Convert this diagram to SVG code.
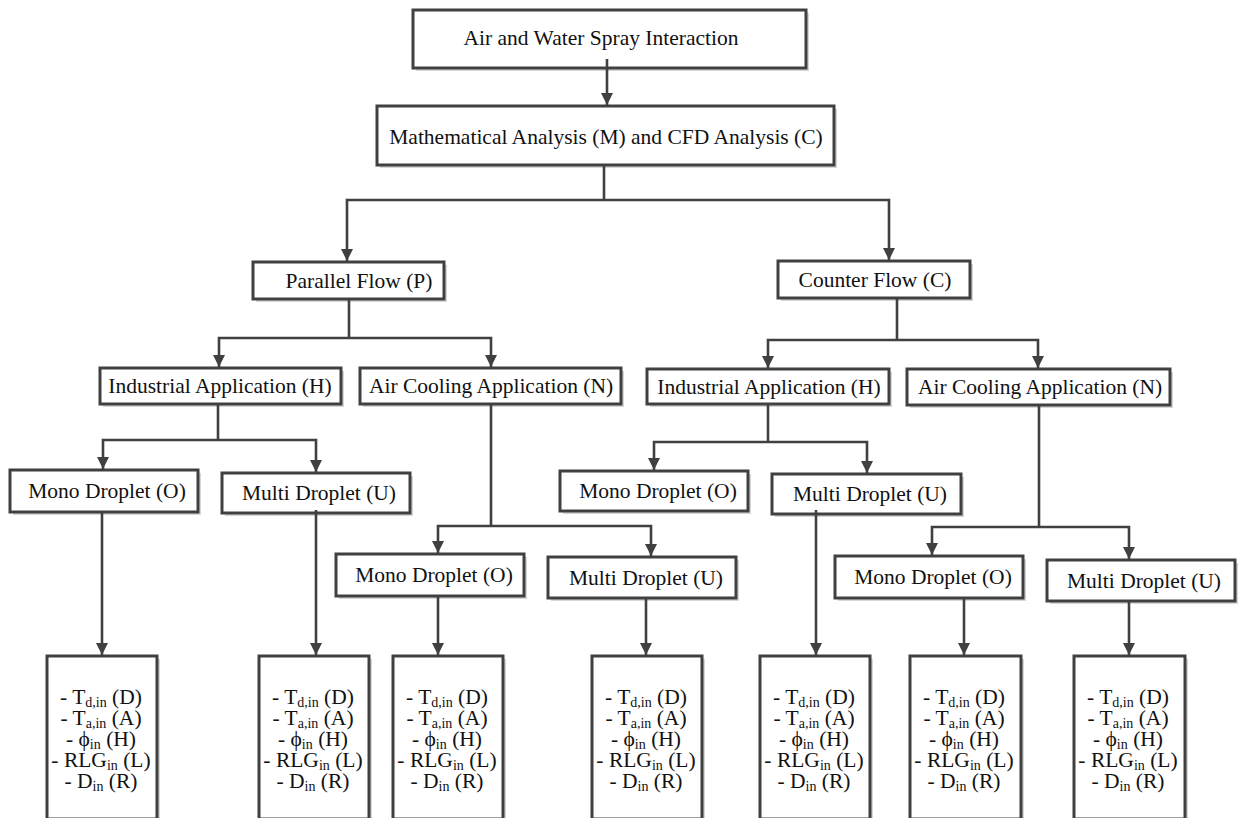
<svg xmlns="http://www.w3.org/2000/svg" width="1241" height="818" viewBox="0 0 1241 818">
<style>
.bx{fill:#ffffff;stroke:#404040;stroke-width:3}
.sh{fill:#d6d6d6}
.t{font-family:"Liberation Serif","Times New Roman",serif;font-size:21.5px;fill:#111;text-anchor:middle}
.sb{font-size:14px}
.c{fill:none;stroke:#404040;stroke-width:2.6}
.a{marker-end:url(#ah)}
</style>
<defs>
<marker id="ah" viewBox="0 0 10 10" refX="10" refY="5" markerWidth="13" markerHeight="12" markerUnits="userSpaceOnUse" orient="auto">
<path d="M0,0 L10,5 L0,10 z" fill="#404040"/>
</marker>
</defs>
<rect width="1241" height="818" fill="#ffffff"/>

<g id="n-top">
<rect class="sh" x="416" y="13" width="393" height="58"/>
<rect class="bx" x="413" y="10" width="393" height="58"/>
<text class="t" x="601" y="45">Air and Water Spray Interaction</text>
</g>
<g id="n-analysis">
<rect class="sh" x="380" y="109" width="457" height="59"/>
<rect class="bx" x="377" y="106" width="457" height="59"/>
<text class="t" x="606" y="144">Mathematical Analysis (M) and CFD Analysis (C)</text>
</g>
<g id="n-parallel">
<rect class="sh" x="256" y="265" width="191" height="37"/>
<rect class="bx" x="253" y="262" width="191" height="37"/>
<text class="t" x="359" y="288">Parallel Flow (P)</text>
</g>
<g id="n-counter">
<rect class="sh" x="781" y="264" width="192" height="37"/>
<rect class="bx" x="778" y="261" width="192" height="37"/>
<text class="t" x="875" y="287">Counter Flow (C)</text>
</g>
<g id="n-ind-p">
<rect class="sh" x="103" y="371" width="241" height="36"/>
<rect class="bx" x="100" y="368" width="241" height="36"/>
<text class="t" x="220" y="393">Industrial Application (H)</text>
</g>
<g id="n-air-p">
<rect class="sh" x="363" y="371" width="261" height="36"/>
<rect class="bx" x="360" y="368" width="261" height="36"/>
<text class="t" x="491" y="393">Air Cooling Application (N)</text>
</g>
<g id="n-ind-c">
<rect class="sh" x="650" y="372" width="242" height="35"/>
<rect class="bx" x="647" y="369" width="242" height="35"/>
<text class="t" x="769" y="394">Industrial Application (H)</text>
</g>
<g id="n-air-c">
<rect class="sh" x="910" y="372" width="263" height="36"/>
<rect class="bx" x="907" y="369" width="263" height="36"/>
<text class="t" x="1040" y="394">Air Cooling Application (N)</text>
</g>
<g id="n-mono-ph">
<rect class="sh" x="13" y="473" width="188" height="42"/>
<rect class="bx" x="10" y="470" width="188" height="42"/>
<text class="t" x="107" y="498">Mono Droplet (O)</text>
</g>
<g id="n-multi-ph">
<rect class="sh" x="225" y="476" width="188" height="40"/>
<rect class="bx" x="222" y="473" width="188" height="40"/>
<text class="t" x="319" y="500">Multi Droplet (U)</text>
</g>
<g id="n-mono-pn">
<rect class="sh" x="339" y="557" width="188" height="42"/>
<rect class="bx" x="336" y="554" width="188" height="42"/>
<text class="t" x="434" y="582">Mono Droplet (O)</text>
</g>
<g id="n-multi-pn">
<rect class="sh" x="551" y="560" width="188" height="41"/>
<rect class="bx" x="548" y="557" width="188" height="41"/>
<text class="t" x="646" y="585">Multi Droplet (U)</text>
</g>
<g id="n-mono-ch">
<rect class="sh" x="563" y="474" width="188" height="40"/>
<rect class="bx" x="560" y="471" width="188" height="40"/>
<text class="t" x="658" y="498">Mono Droplet (O)</text>
</g>
<g id="n-multi-ch">
<rect class="sh" x="775" y="477" width="189" height="40"/>
<rect class="bx" x="772" y="474" width="189" height="40"/>
<text class="t" x="870" y="501">Multi Droplet (U)</text>
</g>
<g id="n-mono-cn">
<rect class="sh" x="838" y="559" width="188" height="42"/>
<rect class="bx" x="835" y="556" width="188" height="42"/>
<text class="t" x="933" y="584">Mono Droplet (O)</text>
</g>
<g id="n-multi-cn">
<rect class="sh" x="1050" y="563" width="188" height="41"/>
<rect class="bx" x="1047" y="560" width="188" height="41"/>
<text class="t" x="1144" y="588">Multi Droplet (U)</text>
</g>

<g id="n-param-1">
<rect class="sh" x="50" y="659" width="110" height="163"/>
<rect class="bx" x="47" y="656" width="110" height="163"/>
<text class="t" x="101" y="704">- T<tspan class="sb" dy="3">d,in</tspan><tspan dy="-3"> (D)</tspan></text>
<text class="t" x="101" y="725">- T<tspan class="sb" dy="3">a,in</tspan><tspan dy="-3"> (A)</tspan></text>
<text class="t" x="101" y="746">- ϕ<tspan class="sb" dy="3">in</tspan><tspan dy="-3"> (H)</tspan></text>
<text class="t" x="101" y="767">- RLG<tspan class="sb" dy="3">in</tspan><tspan dy="-3"> (L)</tspan></text>
<text class="t" x="101" y="788">- D<tspan class="sb" dy="3">in</tspan><tspan dy="-3"> (R)</tspan></text>
</g>
<g id="n-param-2">
<rect class="sh" x="262" y="659" width="110" height="163"/>
<rect class="bx" x="259" y="656" width="110" height="163"/>
<text class="t" x="313" y="704">- T<tspan class="sb" dy="3">d,in</tspan><tspan dy="-3"> (D)</tspan></text>
<text class="t" x="313" y="725">- T<tspan class="sb" dy="3">a,in</tspan><tspan dy="-3"> (A)</tspan></text>
<text class="t" x="313" y="746">- ϕ<tspan class="sb" dy="3">in</tspan><tspan dy="-3"> (H)</tspan></text>
<text class="t" x="313" y="767">- RLG<tspan class="sb" dy="3">in</tspan><tspan dy="-3"> (L)</tspan></text>
<text class="t" x="313" y="788">- D<tspan class="sb" dy="3">in</tspan><tspan dy="-3"> (R)</tspan></text>
</g>
<g id="n-param-3">
<rect class="sh" x="396" y="659" width="110" height="163"/>
<rect class="bx" x="393" y="656" width="110" height="163"/>
<text class="t" x="447" y="704">- T<tspan class="sb" dy="3">d,in</tspan><tspan dy="-3"> (D)</tspan></text>
<text class="t" x="447" y="725">- T<tspan class="sb" dy="3">a,in</tspan><tspan dy="-3"> (A)</tspan></text>
<text class="t" x="447" y="746">- ϕ<tspan class="sb" dy="3">in</tspan><tspan dy="-3"> (H)</tspan></text>
<text class="t" x="447" y="767">- RLG<tspan class="sb" dy="3">in</tspan><tspan dy="-3"> (L)</tspan></text>
<text class="t" x="447" y="788">- D<tspan class="sb" dy="3">in</tspan><tspan dy="-3"> (R)</tspan></text>
</g>
<g id="n-param-4">
<rect class="sh" x="595" y="659" width="110" height="163"/>
<rect class="bx" x="592" y="656" width="110" height="163"/>
<text class="t" x="646" y="704">- T<tspan class="sb" dy="3">d,in</tspan><tspan dy="-3"> (D)</tspan></text>
<text class="t" x="646" y="725">- T<tspan class="sb" dy="3">a,in</tspan><tspan dy="-3"> (A)</tspan></text>
<text class="t" x="646" y="746">- ϕ<tspan class="sb" dy="3">in</tspan><tspan dy="-3"> (H)</tspan></text>
<text class="t" x="646" y="767">- RLG<tspan class="sb" dy="3">in</tspan><tspan dy="-3"> (L)</tspan></text>
<text class="t" x="646" y="788">- D<tspan class="sb" dy="3">in</tspan><tspan dy="-3"> (R)</tspan></text>
</g>
<g id="n-param-5">
<rect class="sh" x="763" y="659" width="110" height="163"/>
<rect class="bx" x="760" y="656" width="110" height="163"/>
<text class="t" x="814" y="704">- T<tspan class="sb" dy="3">d,in</tspan><tspan dy="-3"> (D)</tspan></text>
<text class="t" x="814" y="725">- T<tspan class="sb" dy="3">a,in</tspan><tspan dy="-3"> (A)</tspan></text>
<text class="t" x="814" y="746">- ϕ<tspan class="sb" dy="3">in</tspan><tspan dy="-3"> (H)</tspan></text>
<text class="t" x="814" y="767">- RLG<tspan class="sb" dy="3">in</tspan><tspan dy="-3"> (L)</tspan></text>
<text class="t" x="814" y="788">- D<tspan class="sb" dy="3">in</tspan><tspan dy="-3"> (R)</tspan></text>
</g>
<g id="n-param-6">
<rect class="sh" x="913" y="659" width="111" height="163"/>
<rect class="bx" x="910" y="656" width="111" height="163"/>
<text class="t" x="964" y="704">- T<tspan class="sb" dy="3">d,in</tspan><tspan dy="-3"> (D)</tspan></text>
<text class="t" x="964" y="725">- T<tspan class="sb" dy="3">a,in</tspan><tspan dy="-3"> (A)</tspan></text>
<text class="t" x="964" y="746">- ϕ<tspan class="sb" dy="3">in</tspan><tspan dy="-3"> (H)</tspan></text>
<text class="t" x="964" y="767">- RLG<tspan class="sb" dy="3">in</tspan><tspan dy="-3"> (L)</tspan></text>
<text class="t" x="964" y="788">- D<tspan class="sb" dy="3">in</tspan><tspan dy="-3"> (R)</tspan></text>
</g>
<g id="n-param-7">
<rect class="sh" x="1077" y="659" width="111" height="163"/>
<rect class="bx" x="1074" y="656" width="111" height="163"/>
<text class="t" x="1128" y="704">- T<tspan class="sb" dy="3">d,in</tspan><tspan dy="-3"> (D)</tspan></text>
<text class="t" x="1128" y="725">- T<tspan class="sb" dy="3">a,in</tspan><tspan dy="-3"> (A)</tspan></text>
<text class="t" x="1128" y="746">- ϕ<tspan class="sb" dy="3">in</tspan><tspan dy="-3"> (H)</tspan></text>
<text class="t" x="1128" y="767">- RLG<tspan class="sb" dy="3">in</tspan><tspan dy="-3"> (L)</tspan></text>
<text class="t" x="1128" y="788">- D<tspan class="sb" dy="3">in</tspan><tspan dy="-3"> (R)</tspan></text>
</g>

<g id="connectors">
<path class="c a" d="M607,59 V105"/>
<path class="c" d="M604,165 V200"/>
<path class="c a" d="M604,200 H347 V261"/>
<path class="c a" d="M604,200 H889 V260"/>
<path class="c" d="M349,299 V338"/>
<path class="c a" d="M349,338 H219 V367"/>
<path class="c a" d="M349,338 H491 V367"/>
<path class="c" d="M897,298 V340"/>
<path class="c a" d="M897,340 H768 V368"/>
<path class="c a" d="M897,340 H1038 V368"/>
<path class="c" d="M218,404 V440"/>
<path class="c a" d="M218,440 H103 V469"/>
<path class="c a" d="M218,440 H316 V472"/>
<path class="c" d="M491,404 V526"/>
<path class="c a" d="M491,526 H438 V553"/>
<path class="c a" d="M491,526 H651 V556"/>
<path class="c" d="M768,404 V442"/>
<path class="c a" d="M768,442 H654 V470"/>
<path class="c a" d="M768,442 H867 V473"/>
<path class="c" d="M1039,405 V527"/>
<path class="c a" d="M1039,527 H932 V555"/>
<path class="c a" d="M1039,527 H1129 V559"/>
<path class="c a" d="M102,512 V655"/>
<path class="c a" d="M316,510 V655"/>
<path class="c a" d="M438,596 V655"/>
<path class="c a" d="M646,598 V655"/>
<path class="c a" d="M816,510 V655"/>
<path class="c a" d="M964,598 V655"/>
<path class="c a" d="M1129,601 V655"/>
</g>
</svg>
